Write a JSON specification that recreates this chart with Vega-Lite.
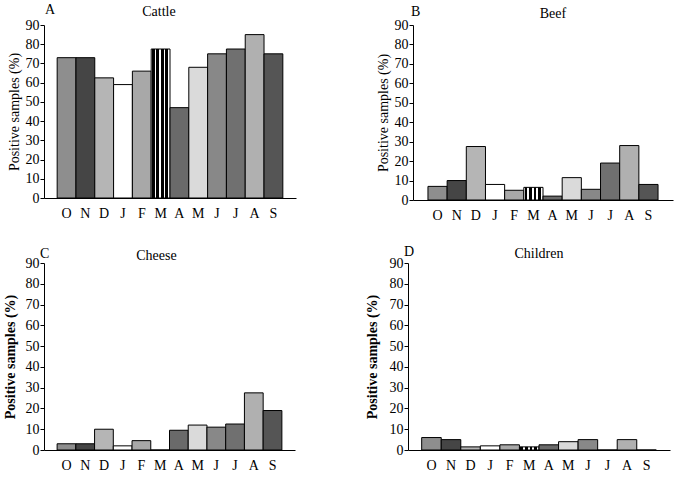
{
  "$schema": "https://vega.github.io/schema/vega-lite/v6.json",
  "padding": {"left": 3, "top": 3, "right": 2, "bottom": 2},
  "background": "white",
  "datasets": {
    "cattle": [
      {"i": 0, "v": 73}, {"i": 1, "v": 73}, {"i": 2, "v": 62.5}, {"i": 3, "v": 59},
      {"i": 4, "v": 66}, {"i": 5, "v": 77.5}, {"i": 6, "v": 47}, {"i": 7, "v": 68},
      {"i": 8, "v": 75}, {"i": 9, "v": 77.5}, {"i": 10, "v": 85}, {"i": 11, "v": 75}
    ],
    "beef": [
      {"i": 0, "v": 7}, {"i": 1, "v": 10}, {"i": 2, "v": 27.5}, {"i": 3, "v": 8},
      {"i": 4, "v": 5}, {"i": 5, "v": 6.5}, {"i": 6, "v": 2}, {"i": 7, "v": 11.5},
      {"i": 8, "v": 5.5}, {"i": 9, "v": 19}, {"i": 10, "v": 28}, {"i": 11, "v": 8}
    ],
    "cheese": [
      {"i": 0, "v": 3}, {"i": 1, "v": 3}, {"i": 2, "v": 10}, {"i": 3, "v": 2},
      {"i": 4, "v": 4.5}, {"i": 5, "v": 0}, {"i": 6, "v": 9.5}, {"i": 7, "v": 12},
      {"i": 8, "v": 11}, {"i": 9, "v": 12.5}, {"i": 10, "v": 27.5}, {"i": 11, "v": 19}
    ],
    "children": [
      {"i": 0, "v": 6}, {"i": 1, "v": 5}, {"i": 2, "v": 1.5}, {"i": 3, "v": 2},
      {"i": 4, "v": 2.5}, {"i": 5, "v": 1.5}, {"i": 6, "v": 2.5}, {"i": 7, "v": 4},
      {"i": 8, "v": 5}, {"i": 9, "v": 0}, {"i": 10, "v": 5}, {"i": 11, "v": 0}
    ]
  },
  "config": {
    "font": "Liberation Serif",
    "view": {"stroke": null},
    "axis": {
      "labelFont": "Liberation Serif", "titleFont": "Liberation Serif",
      "labelColor": "black", "titleColor": "black", "domainColor": "black",
      "tickColor": "black", "grid": false, "labelFontSize": 14, "titleFontSize": 14,
      "titleFontWeight": "normal"
    },
    "title": {"font": "Liberation Serif", "fontSize": 14, "fontWeight": "normal", "color": "black"},
    "bar": {"stroke": "black", "strokeWidth": 1},
    "range": {
      "category": ["#8e8e8e", "#454545", "#b5b5b5", "#ffffff", "#a8a8a8", "#7a7a7a",
                   "#6a6a6a", "#dadada", "#888888", "#707070", "#b0b0b0", "#555555"]
    }
  },
  "vconcat": [
    {
      "hconcat": [
        {
          "title": {"text": "A", "anchor": "start", "dy": 16, "dx": 38},
          "vconcat": [
            {
              "data": {"name": "cattle"},
              "title": {"text": "Cattle", "anchor": "middle", "frame": "group", "offset": -1, "dx": -11},
              "width": 252, "height": 173,
              "mark": {"type": "bar", "width": {"band": 1}},
              "encoding": {
                "x": {"field": "i", "type": "ordinal", "scale": {"paddingInner": 0, "paddingOuter": 0.7},
                      "axis": {"title": null, "ticks": false, "labelAngle": 0, "labelPadding": 8,
                               "labelExpr": "['O','N','D','J','F','M','A','M','J','J','A','S'][datum.value]"}},
                "y": {"field": "v", "type": "quantitative", "scale": {"domain": [0, 90], "nice": false},
                      "axis": {"title": "Positive samples (%)", "values": [0,10,20,30,40,50,60,70,80,90], "tickSize": 4, "labelPadding": 1, "titlePadding": 4}},
                "color": {"condition": {"test": "datum.i === 5", "value": {"gradient": "linear", "x1": 0, "y1": 0, "x2": 1, "y2": 0, "stops": [
                            {"offset": 0, "color": "#ffffff"}, {"offset": 0.04, "color": "#ffffff"},
                            {"offset": 0.04, "color": "#000000"}, {"offset": 0.18, "color": "#000000"},
                            {"offset": 0.18, "color": "#ffffff"}, {"offset": 0.28, "color": "#ffffff"},
                            {"offset": 0.28, "color": "#000000"}, {"offset": 0.42, "color": "#000000"},
                            {"offset": 0.42, "color": "#ffffff"}, {"offset": 0.52, "color": "#ffffff"},
                            {"offset": 0.52, "color": "#000000"}, {"offset": 0.66, "color": "#000000"},
                            {"offset": 0.66, "color": "#ffffff"}, {"offset": 0.76, "color": "#ffffff"},
                            {"offset": 0.76, "color": "#000000"}, {"offset": 0.9, "color": "#000000"},
                            {"offset": 0.9, "color": "#ffffff"}, {"offset": 1, "color": "#ffffff"}]}},
                          "field": "i", "type": "nominal", "legend": null,
                          "scale": {"domain": [0,1,2,3,4,5,6,7,8,9,10,11]}}
              }
            }
          ]
        },
        {
          "title": {"text": "B", "anchor": "start", "dy": 16, "dx": 35},
          "vconcat": [
            {
              "data": {"name": "beef"},
              "title": {"text": "Beef", "anchor": "middle", "frame": "group", "offset": -3, "dx": 10},
              "width": 260, "height": 175,
              "mark": {"type": "bar", "width": {"band": 1}},
              "encoding": {
                "x": {"field": "i", "type": "ordinal", "scale": {"paddingInner": 0, "paddingOuter": 0.78},
                      "axis": {"title": null, "ticks": false, "labelAngle": 0, "labelPadding": 8,
                               "labelExpr": "['O','N','D','J','F','M','A','M','J','J','A','S'][datum.value]"}},
                "y": {"field": "v", "type": "quantitative", "scale": {"domain": [0, 90], "nice": false},
                      "axis": {"title": "Positive samples (%)", "values": [0,10,20,30,40,50,60,70,80,90], "tickSize": 4, "labelPadding": 1, "titlePadding": 4}},
                "color": {"condition": {"test": "datum.i === 5", "value": {"gradient": "linear", "x1": 0, "y1": 0, "x2": 1, "y2": 0, "stops": [
                            {"offset": 0, "color": "#ffffff"}, {"offset": 0.04, "color": "#ffffff"},
                            {"offset": 0.04, "color": "#000000"}, {"offset": 0.18, "color": "#000000"},
                            {"offset": 0.18, "color": "#ffffff"}, {"offset": 0.28, "color": "#ffffff"},
                            {"offset": 0.28, "color": "#000000"}, {"offset": 0.42, "color": "#000000"},
                            {"offset": 0.42, "color": "#ffffff"}, {"offset": 0.52, "color": "#ffffff"},
                            {"offset": 0.52, "color": "#000000"}, {"offset": 0.66, "color": "#000000"},
                            {"offset": 0.66, "color": "#ffffff"}, {"offset": 0.76, "color": "#ffffff"},
                            {"offset": 0.76, "color": "#000000"}, {"offset": 0.9, "color": "#000000"},
                            {"offset": 0.9, "color": "#ffffff"}, {"offset": 1, "color": "#ffffff"}]}},
                          "field": "i", "type": "nominal", "legend": null,
                          "scale": {"domain": [0,1,2,3,4,5,6,7,8,9,10,11]}}
              }
            }
          ]
        }
      ],
      "spacing": 80
    },
    {
      "hconcat": [
        {
          "title": {"text": "C", "anchor": "start", "dy": 16, "dx": 37},
          "vconcat": [
            {
              "data": {"name": "cheese"},
              "title": {"text": "Cheese", "anchor": "middle", "frame": "group", "offset": -7, "dx": -13},
              "width": 251, "height": 187,
              "mark": {"type": "bar", "width": {"band": 1}},
              "encoding": {
                "x": {"field": "i", "type": "ordinal", "scale": {"paddingInner": 0, "paddingOuter": 0.7},
                      "axis": {"title": null, "ticks": false, "labelAngle": 0, "labelPadding": 8,
                               "labelExpr": "['O','N','D','J','F','M','A','M','J','J','A','S'][datum.value]"}},
                "y": {"field": "v", "type": "quantitative", "scale": {"domain": [0, 90], "nice": false},
                      "axis": {"title": "Positive samples (%)", "titleFontWeight": "bold", "values": [0,10,20,30,40,50,60,70,80,90], "tickSize": 4, "labelPadding": 1, "titlePadding": 8}},
                "color": {"field": "i", "type": "nominal", "legend": null,
                          "scale": {"domain": [0,1,2,3,4,5,6,7,8,9,10,11]}}
              }
            }
          ]
        },
        {
          "title": {"text": "D", "anchor": "start", "dy": 16, "dx": 39},
          "vconcat": [
            {
              "data": {"name": "children"},
              "title": {"text": "Children", "anchor": "middle", "frame": "group", "offset": -5, "dx": 0},
              "width": 262, "height": 187,
              "mark": {"type": "bar", "width": {"band": 1}},
              "encoding": {
                "x": {"field": "i", "type": "ordinal", "scale": {"paddingInner": 0, "paddingOuter": 0.7},
                      "axis": {"title": null, "ticks": false, "labelAngle": 0, "labelPadding": 8,
                               "labelExpr": "['O','N','D','J','F','M','A','M','J','J','A','S'][datum.value]"}},
                "y": {"field": "v", "type": "quantitative", "scale": {"domain": [0, 90], "nice": false},
                      "axis": {"title": "Positive samples (%)", "titleFontWeight": "bold", "values": [0,10,20,30,40,50,60,70,80,90], "tickSize": 4, "labelPadding": 1, "titlePadding": 10}},
                "color": {"condition": {"test": "datum.i === 5", "value": {"gradient": "linear", "x1": 0, "y1": 0, "x2": 1, "y2": 0, "stops": [
                            {"offset": 0, "color": "#ffffff"}, {"offset": 0.04, "color": "#ffffff"},
                            {"offset": 0.04, "color": "#000000"}, {"offset": 0.18, "color": "#000000"},
                            {"offset": 0.18, "color": "#ffffff"}, {"offset": 0.28, "color": "#ffffff"},
                            {"offset": 0.28, "color": "#000000"}, {"offset": 0.42, "color": "#000000"},
                            {"offset": 0.42, "color": "#ffffff"}, {"offset": 0.52, "color": "#ffffff"},
                            {"offset": 0.52, "color": "#000000"}, {"offset": 0.66, "color": "#000000"},
                            {"offset": 0.66, "color": "#ffffff"}, {"offset": 0.76, "color": "#ffffff"},
                            {"offset": 0.76, "color": "#000000"}, {"offset": 0.9, "color": "#000000"},
                            {"offset": 0.9, "color": "#ffffff"}, {"offset": 1, "color": "#ffffff"}]}},
                          "field": "i", "type": "nominal", "legend": null,
                          "scale": {"domain": [0,1,2,3,4,5,6,7,8,9,10,11]}}
              }
            }
          ]
        }
      ],
      "spacing": 70
    }
  ],
  "spacing": 23
}
